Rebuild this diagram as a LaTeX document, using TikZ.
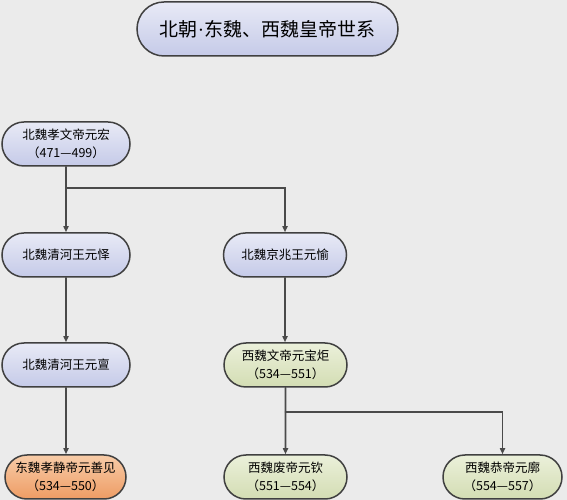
\documentclass[tikz,border=0pt]{standalone}
\usepackage{fontspec}
\setmainfont{Noto Sans CJK SC}
\newfontfamily\latinfont{Liberation Serif}
\usepackage{tikz}
\usetikzlibrary{arrows.meta,shapes.misc}
\usepackage{xcolor}
\definecolor{bgray}{HTML}{EBEBEB}
\definecolor{edgegray}{HTML}{404040}
\definecolor{linegray}{HTML}{4A4A4A}
\definecolor{btop}{HTML}{E8EAF6}
\definecolor{bbot}{HTML}{C5CAE8}
\definecolor{gtop}{HTML}{EBF0DA}
\definecolor{gbot}{HTML}{D3DDB3}
\definecolor{otop}{HTML}{F8CCA8}
\definecolor{obot}{HTML}{EE9C64}

\tikzset{
  ruler/.style={rounded rectangle,draw=edgegray,line width=1.5pt,align=center,
    inner sep=0pt,minimum height=44pt,font=\fontsize{12.5}{18}\selectfont},
  bwei/.style={ruler,top color=btop,bottom color=bbot},
  xwei/.style={ruler,top color=gtop,bottom color=gbot},
  dwei/.style={ruler,top color=otop,bottom color=obot}
}

\begin{document}
\begin{tikzpicture}[x=1pt,y=1pt,>={Triangle[length=6pt,width=5pt]},line cap=round]
\fill[bgray] (0,0) rectangle (567,500);
\useasboundingbox (0,0) rectangle (567,500);
% title
\node[bwei,minimum width=261pt,minimum height=54pt,font=\fontsize{19}{22}\selectfont] (title) at (267.5,471) {北朝{\latinfont ·}东魏、西魏皇帝世系};
% rulers
\node[bwei,minimum width=128pt] (xiaowen) at (66,356) {北魏孝文帝元宏\\（471—499）};
\node[bwei,minimum width=128pt] (yuanyi) at (66,245) {北魏清河王元怿};
\node[bwei,minimum width=123pt] (yuanyu) at (285,245) {北魏京兆王元愉};
\node[bwei,minimum width=128pt] (yuandan) at (66,135) {北魏清河王元亶};
\node[xwei,minimum width=123pt] (baoju) at (285.5,135) {西魏文帝元宝炬\\（534—551）};
\node[dwei,minimum width=121pt] (shanjian) at (65.5,23) {东魏孝静帝元善见\\（534—550）};
\node[xwei,minimum width=123pt] (yuanqin) at (285.5,23) {西魏废帝元钦\\（551—554）};
\node[xwei,minimum width=119pt] (yuankuo) at (502.5,23) {西魏恭帝元廓\\（554—557）};
% lines
\begin{scope}[draw=linegray,line width=1.9pt]
\draw[->] (xiaowen) -- (yuanyi);
\draw[->] (xiaowen.south) ++(0,-21) -| (yuanyu.north);
\draw[->] (yuanyi) -- (yuandan);
\draw[->] (yuandan) -- (shanjian.north -| yuandan.south);
\draw[->] (yuanyu.south) -- (baoju.north -| yuanyu.south);
\draw[->] (baoju) -- (yuanqin);
\draw[->] (baoju.south) ++(0,-24) -| (yuankuo.north);
\end{scope}
\end{tikzpicture}
\end{document}
